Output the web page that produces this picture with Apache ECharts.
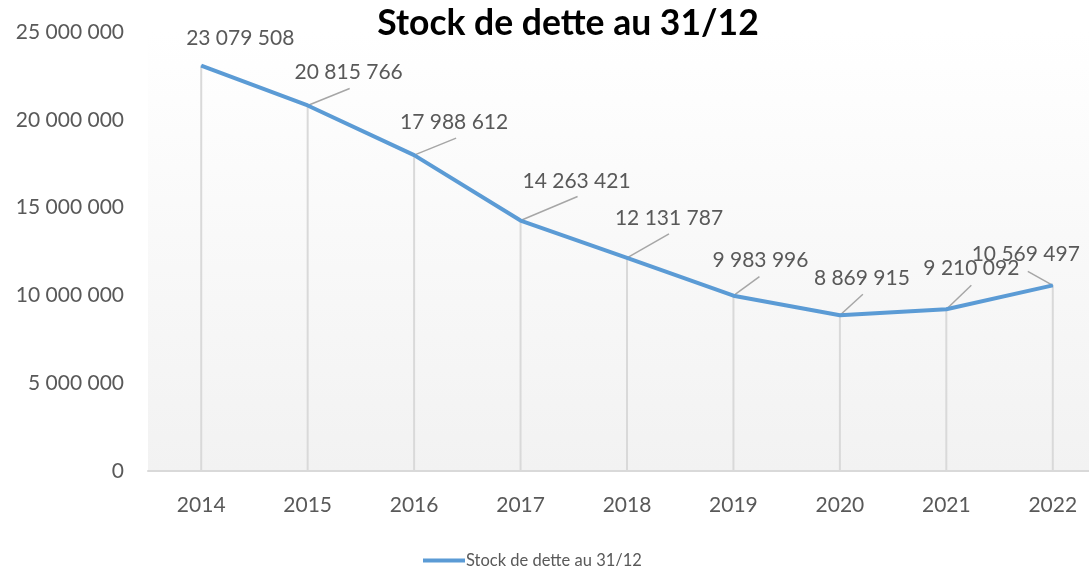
<!DOCTYPE html>
<html>
<head>
<meta charset="utf-8">
<script src="https://cdn.jsdelivr.net/npm/echarts@6/dist/echarts.min.js"></script>
<style>html,body{margin:0;padding:0;background:#fff}#c{width:1089px;height:566px}</style>
</head>
<body>
<div id="c"></div>
<script>
var years = ['2014','2015','2016','2017','2018','2019','2020','2021','2022'];
var stock = [23079508, 20815766, 17988612, 14263421, 12131787, 9983996, 8869915, 9210092, 10569497];
var seriesName = 'Stock de dette au 31/12';
var titleText = 'Stock de dette au 31/12';
var yTicks = { min: 0, max: 25000000, interval: 5000000 };

// label offsets and leader-line offsets (styling only), relative to each point
var labelOffsets = [[39,-27],[41,-33],[40,-33],[56,-39],[42,-40],[27,-35],[22,-37],[25,-41],[-27,-31]];
var leaderOffsets = [null,[42,-17],[42,-17],[57,-24],[42,-24],[26,-19],[23,-21],[25,-24],[-25,-14]];

function fmt(v){ return String(Math.round(v)).replace(/\B(?=(\d{3})+(?!\d))/g, ' '); }

var FONT = 'Lato';
var chart = echarts.init(document.getElementById('c'));
chart.setOption({
  animation: false,
  title: { text: titleText, left: 563, top: 1, textAlign: 'center',
    textStyle: { fontFamily: FONT, fontWeight: 'bold', fontSize: 35.5, color: '#000' } },
  legend: { data: [seriesName], left: 418, top: 547, icon: 'rect', itemWidth: 42, itemHeight: 4, itemGap: 10,
    textStyle: { fontFamily: FONT, fontSize: 16.5, color: '#595959', padding: [0,0,0,-4] } },
  grid: { left: 148, width: 958, top: 32, bottom: 95, show: true, borderWidth: 0,
    containLabel: false, outerBoundsMode: 'none',
    backgroundColor: new echarts.graphic.LinearGradient(0,0,0,1,[{offset:0,color:'#ffffff'},{offset:1,color:'#f2f2f2'}]) },
  xAxis: { type: 'category', data: years, boundaryGap: true,
    axisTick: { show: false }, axisLine: { lineStyle: { color: '#d9d9d9', width: 2 } },
    axisLabel: { fontFamily: FONT, fontSize: 21, color: '#595959', margin: 24 } },
  yAxis: { type: 'value', min: yTicks.min, max: yTicks.max, interval: yTicks.interval,
    splitLine: { show: false }, axisLine: { show: false }, axisTick: { show: false },
    axisLabel: { fontFamily: FONT, fontSize: 21, color: '#595959', margin: 24, formatter: fmt } },
  series: [
    { type: 'bar', name: 'drop', data: stock, barWidth: 2, itemStyle: { color: '#d9d9d9' }, silent: true, z: 1 },
    { type: 'custom', name: 'leaders', data: stock.map(function(v,i){ return [i, v]; }), silent: true, z: 2,
      renderItem: function(params, api){
        var o = leaderOffsets[params.dataIndex];
        if (!o) return null;
        var p = api.coord([api.value(0), api.value(1)]);
        return { type: 'line', shape: { x1: p[0], y1: p[1], x2: p[0] + o[0], y2: p[1] + o[1] },
          style: { stroke: '#a6a6a6', lineWidth: 1.5 } };
      } },
    { type: 'line', name: seriesName, data: stock, z: 3,
      symbol: 'circle', symbolSize: 1, showSymbol: true,
      itemStyle: { color: '#5b9bd5' }, lineStyle: { color: '#5b9bd5', width: 4 },
      label: { show: true, position: 'inside', formatter: function(p){ return fmt(p.value); },
        fontFamily: FONT, fontSize: 21, color: '#595959' },
      labelLine: { show: false },
      labelLayout: function(p){ var o = labelOffsets[p.dataIndex]; return { dx: o[0], dy: o[1] }; } }
  ]
});
</script>
</body>
</html>
